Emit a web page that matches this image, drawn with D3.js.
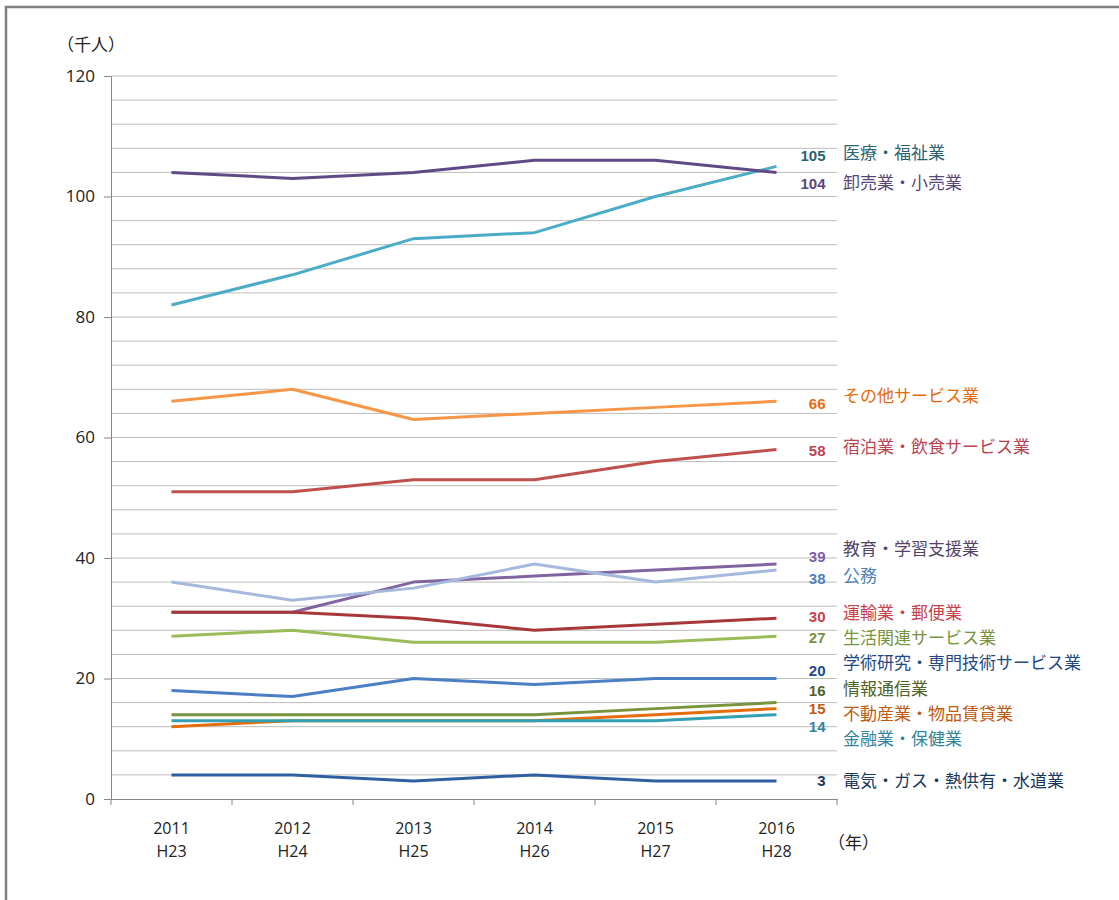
<!DOCTYPE html>
<html lang="ja">
<head>
<meta charset="utf-8">
<script src="https://cdn.jsdelivr.net/npm/d3@7/dist/d3.min.js"></script>
<style>
  html, body { margin: 0; padding: 0; background: #fff; }
  svg { display: block; }
  text { font-family: "Open Sans", "Noto Sans CJK JP", sans-serif; }
  .jp { font-family: "Noto Sans CJK JP", sans-serif; }
  .val { font-family: "Liberation Sans", Arial, sans-serif; }
</style>
</head>
<body>
<svg id="chart" width="1119" height="900"></svg>
<script>
// 産業別就業者数の推移（千人）
const years = ["2011", "2012", "2013", "2014", "2015", "2016"];
const eras = ["H23", "H24", "H25", "H26", "H27", "H28"];
const yTicks = [0, 20, 40, 60, 80, 100, 120];

const iryo      = [82, 87, 93, 94, 100, 105];   // 医療・福祉業
const oroshi    = [104, 103, 104, 106, 106, 104]; // 卸売業・小売業
const sonota    = [66, 68, 63, 64, 65, 66];     // その他サービス業
const shukuhaku = [51, 51, 53, 53, 56, 58];     // 宿泊業・飲食サービス業
const kyoiku    = [31, 31, 36, 37, 38, 39];     // 教育・学習支援業
const komu      = [36, 33, 35, 39, 36, 38];     // 公務
const unyu      = [31, 31, 30, 28, 29, 30];     // 運輸業・郵便業
const seikatsu  = [27, 28, 26, 26, 26, 27];     // 生活関連サービス業
const gakujutsu = [18, 17, 20, 19, 20, 20];     // 学術研究・専門技術サービス業
const joho      = [14, 14, 14, 14, 15, 16];     // 情報通信業
const fudosan   = [12, 13, 13, 13, 14, 15];     // 不動産業・物品賃貸業
const kinyu     = [13, 13, 13, 13, 13, 14];     // 金融業・保健業
const denki     = [4, 4, 3, 4, 3, 3];           // 電気・ガス・熱供有・水道業

// name, values, line colour, text colour, value-label y offset, name-label y
const series = [
  { name: "医療・福祉業", values: iryo, line: "#4bacc6", text: "#2a6270", dy: -11, ny: 153 },
  { name: "卸売業・小売業", values: oroshi, line: "#5f4a86", text: "#584878", dy: 11, ny: 183 },
  { name: "その他サービス業", values: sonota, line: "#f79646", text: "#e46c0a", dy: 2, ny: 396 },
  { name: "宿泊業・飲食サービス業", values: shukuhaku, line: "#c0504d", text: "#b94452", dy: 1, ny: 447 },
  { name: "教育・学習支援業", values: kyoiku, line: "#8064a2", text: "#544567", valText: "#7f60a8", dy: -7, ny: 549 },
  { name: "公務", values: komu, line: "#a5b8de", text: "#4f81bd", dy: 9, ny: 576 },
  { name: "運輸業・郵便業", values: unyu, line: "#a8373a", text: "#c8424a", dy: -2, ny: 613 },
  { name: "生活関連サービス業", values: seikatsu, line: "#9bbb59", text: "#77933c", dy: 1, ny: 638 },
  { name: "学術研究・専門技術サービス業", values: gakujutsu, line: "#4a7fc4", text: "#1f4a85", dy: -7.5, ny: 663 },
  { name: "情報通信業", values: joho, line: "#77933c", text: "#4f6228", dy: -12, ny: 689 },
  { name: "不動産業・物品賃貸業", values: fudosan, line: "#e46c0a", text: "#c05a10", dy: 0.5, ny: 714 },
  { name: "金融業・保健業", values: kinyu, line: "#31a0b4", text: "#31859c", dy: 12, ny: 739 },
  { name: "電気・ガス・熱供有・水道業", values: denki, line: "#2e5fa0", text: "#17375e", dy: 0, ny: 781 }
];

const svg = d3.select("#chart");

// outer frame (top and left edges)
svg.append("line").attr("x1", 5).attr("x2", 1119).attr("y1", 7).attr("y2", 7)
  .attr("stroke", "#7f7f7f").attr("stroke-width", 2.5);
svg.append("line").attr("x1", 6).attr("x2", 6).attr("y1", 6).attr("y2", 900)
  .attr("stroke", "#7f7f7f").attr("stroke-width", 2.5);

const plotL = 111, plotR = 837, plotT = 76, plotB = 799;

const x = d3.scaleBand().domain(years).range([plotL, plotR]);
const y = d3.scaleLinear().domain([0, 120]).range([plotB, plotT]);

// horizontal gridlines every 4 thousand
const grid = d3.range(4, 121, 4);
svg.append("g").selectAll("line").data(grid).join("line")
  .attr("x1", plotL).attr("x2", plotR)
  .attr("y1", d => y(d)).attr("y2", d => y(d))
  .attr("stroke", "#bcbcbc").attr("stroke-width", 1);

// y axis
const yAxis = svg.append("g").attr("transform", `translate(${plotL},0)`)
  .call(d3.axisLeft(y).tickValues(yTicks).tickSize(7).tickPadding(9));
yAxis.select(".domain").attr("stroke", "#868686");
yAxis.selectAll(".tick line").attr("stroke", "#868686");
yAxis.selectAll(".tick text").attr("font-size", 17).attr("fill", "#222")
  .style("font-family", "'Open Sans', sans-serif");

// x axis with ticks at band edges
const xAxis = svg.append("g").attr("transform", `translate(0,${plotB})`)
  .call(d3.axisBottom(x).tickSize(0).tickFormat(""));
xAxis.select(".domain").attr("stroke", "#868686");
const edges = years.map(d => x(d)).concat([plotR]);
svg.append("g").selectAll("line").data(edges).join("line")
  .attr("x1", d => d).attr("x2", d => d)
  .attr("y1", plotB).attr("y2", plotB + 6)
  .attr("stroke", "#868686");

const xl = svg.append("g").selectAll("text").data(years).join("text")
  .attr("x", d => x(d) + x.bandwidth() / 2)
  .attr("text-anchor", "middle").attr("font-size", 16).attr("fill", "#222");
xl.append("tspan").attr("x", d => x(d) + x.bandwidth() / 2).attr("y", 834).text(d => d);
xl.append("tspan").attr("x", d => x(d) + x.bandwidth() / 2).attr("y", 857).text((d, i) => eras[i]);

svg.append("text").attr("class", "jp").attr("x", 828).attr("y", 849)
  .attr("font-size", 17).attr("fill", "#222").text("（年）");
svg.append("text").attr("class", "jp").attr("x", 57).attr("y", 51)
  .attr("font-size", 17).attr("fill", "#222").text("（千人）");

// series lines
const line = d3.line()
  .x((d, i) => x(years[i]) + x.bandwidth() / 2)
  .y(d => y(d));

svg.append("g").selectAll("path").data(series).join("path")
  .attr("d", d => line(d.values))
  .attr("fill", "none")
  .attr("stroke", d => d.line)
  .attr("stroke-width", 3)
  .attr("stroke-linejoin", "round");

// end values
const last = years[years.length - 1];
const xEnd = x(last) + x.bandwidth() / 2;
svg.append("g").selectAll("text").data(series).join("text")
  .attr("class", "val")
  .attr("x", xEnd + 49)
  .attr("y", d => y(d.values[d.values.length - 1]) + d.dy)
  .attr("dy", "0.35em")
  .attr("text-anchor", "end")
  .attr("font-size", 15).attr("font-weight", "bold")
  .attr("fill", d => d.valText || d.text)
  .text(d => d.values[d.values.length - 1]);

// category names
svg.append("g").selectAll("text").data(series).join("text")
  .attr("class", "jp")
  .attr("x", 843)
  .attr("y", d => d.ny)
  .attr("dy", "0.35em")
  .attr("font-size", 17)
  .attr("fill", d => d.text)
  .text(d => d.name);
</script>
</body>
</html>
